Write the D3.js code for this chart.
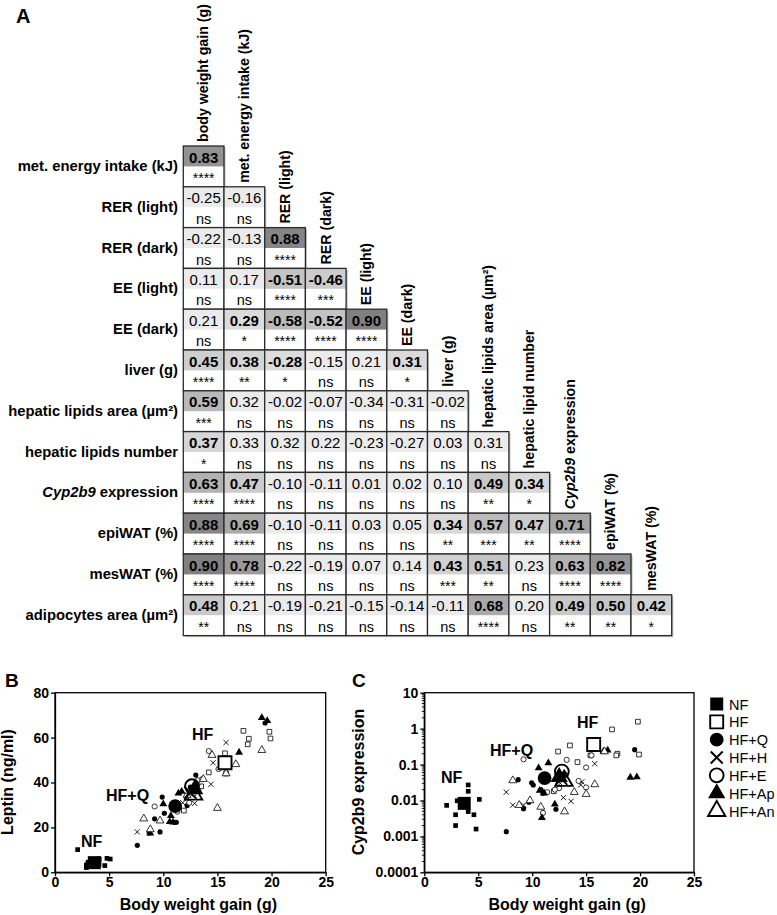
<!DOCTYPE html>
<html><head><meta charset="utf-8">
<script src="https://cdn.jsdelivr.net/npm/d3@7"></script>
<style>body{margin:0;background:#fff} svg{display:block} text{font-family:"Liberation Sans",Arial,sans-serif;fill:#000}</style>
</head><body><svg id="c" width="777" height="915"></svg>
<script>
// ---------- Panel A data ----------
const rowLabels = ["met. energy intake (kJ)","RER (light)","RER (dark)","EE (light)","EE (dark)","liver (g)",
  "hepatic lipids area (µm²)","hepatic lipids number","Cyp2b9 expression","epiWAT (%)","mesWAT (%)","adipocytes area (µm²)"];
const colLabels = ["body weight gain (g)","met. energy intake (kJ)","RER (light)","RER (dark)","EE (light)","EE (dark)",
  "liver (g)","hepatic lipids area (µm²)","hepatic lipid number","Cyp2b9 expression","epiWAT (%)","mesWAT (%)"];
const rValues = [
  [0.83],
  [-0.25,-0.16],
  [-0.22,-0.13,0.88],
  [0.11,0.17,-0.51,-0.46],
  [0.21,0.29,-0.58,-0.52,0.90],
  [0.45,0.38,-0.28,-0.15,0.21,0.31],
  [0.59,0.32,-0.02,-0.07,-0.34,-0.31,-0.02],
  [0.37,0.33,0.32,0.22,-0.23,-0.27,0.03,0.31],
  [0.63,0.47,-0.10,-0.11,0.01,0.02,0.10,0.49,0.34],
  [0.88,0.69,-0.10,-0.11,0.03,0.05,0.34,0.57,0.47,0.71],
  [0.90,0.78,-0.22,-0.19,0.07,0.14,0.43,0.51,0.23,0.63,0.82],
  [0.48,0.21,-0.19,-0.21,-0.15,-0.14,-0.11,0.68,0.20,0.49,0.50,0.42]
];
const pStars = [
  ["****"],
  ["ns","ns"],
  ["ns","ns","****"],
  ["ns","ns","****","***"],
  ["ns","*","****","****","****"],
  ["****","**","*","ns","ns","*"],
  ["***","ns","ns","ns","ns","ns","ns"],
  ["*","ns","ns","ns","ns","ns","ns","ns"],
  ["****","****","ns","ns","ns","ns","ns","**","*"],
  ["****","****","ns","ns","ns","ns","**","***","**","****"],
  ["****","****","ns","ns","ns","ns","***","**","ns","****","****"],
  ["**","ns","ns","ns","ns","ns","ns","****","ns","**","**","*"]
];

// ---------- Panels B/C data: [body weight gain (g), value] ----------
const groups = ["NF","HF","HF+Q","HF+H","HF+E","HF+Ap","HF+An"];
const groupMarkers = ["sqF","sqO","ciF","x","ciO","trF","trO"];
const xTicks = [0,5,10,15,20,25];
const leptinTicks = [0,20,40,60,80];
const cypTicks = [0.0001,0.001,0.01,0.1,1,10];

const leptinNF   = [[2.09,10.1],[2.9,3.3],[2.9,2.1],[4.6,3.0],[4.8,6.2],[5.1,5.9],[3.05,4.5],[4.07,5.5],[4.07,3.5],[4.07,6.0]];
const leptinHF   = [[17.4,63],[17.9,59.5],[17.8,57],[19.8,62.6],[19.9,59.6],[15.7,53],[14.2,44.5],[13.5,38.3],[11.9,27.5],[15.8,44]];
const leptinHFQ  = [[7.6,12.0],[8.7,17.5],[9.7,18.0],[9.2,23.8],[9.9,33.5],[10.1,26.3],[13.0,43.3],[12.2,29.7],[11.2,22.3],[11.0,22.3],[12.5,38],[19.4,66.5]];
const leptinHFH  = [[7.6,18],[15.8,57.8],[14.6,48.8],[14.4,39.2],[12.9,30.7],[12.3,33],[13.2,38],[11.8,31]];
const leptinHFE  = [[9.2,29.3],[14.2,54],[15.1,46],[11.3,27],[13.2,41],[13.6,41.5],[12.4,31],[12.8,35]];
const leptinHFAp = [[19.1,68.8],[19.6,67.5],[17.0,53.4],[10.0,30.4],[10.7,25.2],[10.6,22.5],[10.9,22.3],[11.4,35.2],[11.7,36],[8.8,17.4],[13.0,39]];
const leptinHFAn = [[8.2,23.9],[8.8,19.1],[9.7,23],[14.5,52.2],[16.7,48.1],[19.1,54.4],[15.0,28.6],[15.8,44],[13.7,41.5],[12.2,34.4]];
const leptinMeans = [[3.63,4.3],[15.7,48.8],[11.1,29.5],[12.5,35.5],[12.65,38.4],[12.9,37],[12.8,34.6]];

const cypNF   = [[2.07,0.0073],[2.9,0.0040],[2.9,0.0020],[4.07,0.027],[4.07,0.018],[4.07,0.0049],[4.6,0.0040],[4.8,0.0016],[5.1,0.0107],[3.05,0.0098]];
const cypHF   = [[19.8,1.56],[17.4,0.95],[13.5,0.34],[12.4,0.23],[14.2,0.117],[15.4,0.18],[17.9,0.20],[17.8,0.18],[19.9,0.19],[12.0,0.018]];
const cypHFQ  = [[7.6,0.00135],[8.7,0.038],[9.2,0.0059],[9.7,0.0089],[9.95,0.031],[10.1,0.027],[11.0,0.016],[12.2,0.0057],[19.5,0.26],[10.8,0.02],[11.3,0.045],[12.4,0.05]];
const cypHFH  = [[7.6,0.017],[8.2,0.0074],[9.2,0.0074],[12.9,0.012],[13.6,0.0095],[14.5,0.027],[15.8,0.106],[14.6,0.033],[12.3,0.045],[12.6,0.03]];
const cypHFE  = [[9.2,0.14],[13.2,0.135],[15.0,0.083],[11.0,0.0045],[14.3,0.035],[15.0,0.023],[12.5,0.022],[11.4,0.017],[12.1,0.02],[15.5,0.18]];
const cypHFAp = [[10.6,0.08],[11.5,0.11],[10.7,0.019],[12.1,0.0078],[10.9,0.0033],[17.0,0.25],[16.6,0.23],[19.1,0.044],[19.7,0.045],[13.0,0.055],[11.1,0.016]];
const cypHFAn = [[8.2,0.036],[8.8,0.0074],[9.8,0.010],[10.8,0.0066],[13.0,0.0049],[13.9,0.017],[15.0,0.015],[15.8,0.028],[16.7,0.23],[12.4,0.04]];
const cypMeans = [[3.7,0.0083],[15.7,0.36],[11.15,0.042],[12.7,0.04],[12.75,0.064],[12.5,0.045],[12.95,0.035]];

const leptinSets = [leptinNF,leptinHF,leptinHFQ,leptinHFH,leptinHFE,leptinHFAp,leptinHFAn];
const cypSets = [cypNF,cypHF,cypHFQ,cypHFH,cypHFE,cypHFAp,cypHFAn];

// ---------- drawing ----------
const svg = d3.select("#c");
const FONT = '"Liberation Sans",Arial,sans-serif';

// Panel A
svg.append("text").attr("x",16).attr("y",23).style("font-size","20px").style("font-weight","bold").text("A");

const xM = d3.scaleBand().domain(colLabels).range([183.3,671.7]);
const yM = d3.scaleBand().domain(rowLabels).range([146,635.6]);
const sigShade = d3.scaleLinear().domain([0.28,0.42,0.5,0.63,0.7,0.82,0.9]).range([220,210,198,178,166,148,128]).clamp(true);
function shade(r, p){ if(p==="ns") return "#ebebeb"; const g=Math.round(sigShade(Math.abs(r))); return d3.rgb(g,g,g).toString(); }
function fmt(r){ return (r<0?"-":"")+Math.abs(r).toFixed(2); }

const cells = [];
rValues.forEach((row,i)=>row.forEach((r,j)=>cells.push({i,j,r,p:pStars[i][j]})));
const gA = svg.append("g");
const cw = xM.bandwidth(), ch = yM.bandwidth();
gA.selectAll("rect.sh").data(cells).join("rect").attr("class","sh")
  .attr("x",d=>xM(colLabels[d.j])+1.6).attr("y",d=>yM(rowLabels[d.i])+1.6)
  .attr("width",cw).attr("height",ch).attr("fill","#c4c4c4");
const cg = gA.selectAll("g.cell").data(cells).join("g").attr("class","cell")
  .attr("transform",d=>`translate(${xM(colLabels[d.j])},${yM(rowLabels[d.i])})`);
cg.append("rect").attr("width",cw).attr("height",ch).attr("fill","#fff");
cg.append("rect").attr("width",cw).attr("height",ch/2).attr("fill",d=>shade(d.r,d.p));
cg.append("rect").attr("width",cw).attr("height",ch).attr("fill","none").attr("stroke","#2a2a2a").attr("stroke-width",1.3);
cg.append("text").attr("x",cw/2).attr("y",16.5).attr("text-anchor","middle")
  .style("font-size","15px").style("font-weight",d=>d.p==="ns"?"normal":"bold").text(d=>fmt(d.r));
cg.append("text").attr("x",cw/2).attr("y",37).attr("text-anchor","middle")
  .style("font-size",d=>d.p==="ns"?"14.5px":"14px").text(d=>d.p);

function richLabel(sel, label){
  if(label.startsWith("Cyp2b9")){
    sel.append("tspan").style("font-style","italic").text("Cyp2b9");
    sel.append("tspan").text(label.slice(6));
  } else sel.text(label);
}
rowLabels.forEach((lab,i)=>{
  const t = gA.append("text").attr("x",178).attr("y",yM(lab)+25).attr("text-anchor","end")
    .style("font-size","14.8px").style("font-weight","bold");
  richLabel(t, lab);
});
colLabels.forEach((lab,j)=>{
  const cx = xM(lab)+cw/2+4.8, by = yM(rowLabels[j])-4;
  const t = gA.append("text").attr("transform",`translate(${cx},${by}) rotate(-90)`)
    .style("font-size","14.2px").style("font-weight","bold");
  richLabel(t, lab);
});

// marker helper
function markerPath(type, big){
  if(type==="x"){ const h = big?6:2.6; return `M${-h},${-h}L${h},${h}M${-h},${h}L${h},${-h}`; }
  const shape = type.startsWith("sq")?d3.symbolSquare: type.startsWith("ci")?d3.symbolCircle:d3.symbolTriangle;
  const size = type.startsWith("sq")?(big?169:22): type.startsWith("ci")?(big?150:21):(big?130:27);
  return d3.symbol().type(shape).size(size)();
}
function markerStyle(sel, type, big, legend){
  const filled = type.endsWith("F");
  if(type==="x"){ sel.attr("fill","none").attr("stroke","#000").attr("stroke-width",big?2:0.9); return; }
  if(filled){ sel.attr("fill","#000").attr("stroke","none"); }
  else sel.attr("fill",big&&!legend?"none":"#fff").attr("stroke","#000").attr("stroke-width",big?1.9:0.8);
}

function scatterPanel(x0,x1,yScale,sets,means,yTicks,yFmt,isLog,yTitle,yTitleX,letter,letterX,labels){
  const xs = d3.scaleLinear().domain([0,25]).range([x0,x1]);
  const g = svg.append("g");
  g.append("text").attr("x",letterX).attr("y",687).style("font-size","19px").style("font-weight","bold").text(letter);
  const ax = g.append("g").attr("transform",`translate(0,${872.3})`)
    .call(d3.axisBottom(xs).tickValues(xTicks).tickSize(4).tickSizeOuter(0).tickPadding(1));
  const ay = g.append("g").attr("transform",`translate(${x0},0)`)
    .call(d3.axisLeft(yScale).tickValues(yTicks).tickFormat(yFmt).tickSize(4).tickSizeOuter(0).tickPadding(2));
  [ax,ay].forEach(a=>{ a.selectAll("path,line").attr("stroke","#000").attr("stroke-width",1.3);
    a.selectAll("text").style("font-size","14px").style("font-weight","bold").style("font-family",FONT).attr("fill","#000"); });
  if(isLog){
    const minor=[]; for(let e=-4;e<1;e++) for(let k=2;k<10;k++) minor.push(k*Math.pow(10,e));
    g.selectAll("line.mn").data(minor).join("line").attr("class","mn")
      .attr("x1",x0-2.5).attr("x2",x0).attr("y1",d=>yScale(d)).attr("y2",d=>yScale(d))
      .attr("stroke","#000").attr("stroke-width",0.9);
  }
  g.append("rect").attr("x",x0).attr("y",692.7).attr("width",x1-x0).attr("height",872.3-692.7)
    .attr("fill","none").attr("stroke","#000").attr("stroke-width",1.3);
  sets.forEach((pts,gi)=>{
    const type = groupMarkers[gi];
    const sel = g.selectAll(null).data(pts).join("path")
      .attr("transform",d=>`translate(${xs(d[0])},${yScale(d[1])})`).attr("d",markerPath(type,false));
    markerStyle(sel,type,false);
  });
  const order = [0,2,5,3,1,6,4];
  order.forEach(gi=>{
    const type = groupMarkers[gi];
    const sel = g.append("path").datum(means[gi])
      .attr("transform",d=>`translate(${xs(d[0])},${yScale(d[1])})`).attr("d",markerPath(type,true));
    markerStyle(sel,type,true);
    if(gi===1) sel.attr("fill","#fff");
  });
  labels.forEach(l=>g.append("text").attr("x",l[1]).attr("y",l[2]).style("font-size","16px").style("font-weight","bold").text(l[0]));
  g.append("text").attr("x",(x0+x1)/2+8).attr("y",910).attr("text-anchor","middle")
    .style("font-size","16px").style("font-weight","bold").text("Body weight gain (g)");
  g.append("text").attr("transform",`translate(${yTitleX},782) rotate(-90)`).attr("text-anchor","middle")
    .style("font-size","16px").style("font-weight","bold").text(yTitle);
}

const yB = d3.scaleLinear().domain([0,80]).range([872.3,692.7]);
scatterPanel(55,325.7,yB,leptinSets,leptinMeans,leptinTicks,d3.format("d"),false,"Leptin (ng/ml)",13,"B",5,
  [["NF",81,847],["HF+Q",106,801],["HF",192,740]]);
const yC = d3.scaleLog().domain([0.0001,10]).range([872.3,692.7]);
scatterPanel(424.3,694,yC,cypSets,cypMeans,cypTicks,d=>String(d),true,"Cyp2b9 expression",364,"C",352,
  [["NF",441,783],["HF+Q",490,756],["HF",577,728]]);

// Legend
const legY = d3.scalePoint().domain(groups).range([704,811]);
const lg = svg.append("g");
groups.forEach((gname,gi)=>{
  const type = groupMarkers[gi];
  const sel = lg.append("path").attr("transform",`translate(716.7,${legY(gname)})`).attr("d",markerPath(type,true));
  markerStyle(sel,type,true,true);
  lg.append("text").attr("x",729).attr("y",legY(gname)+5.5).style("font-size","14.5px").text(gname);
});
</script></body></html>
